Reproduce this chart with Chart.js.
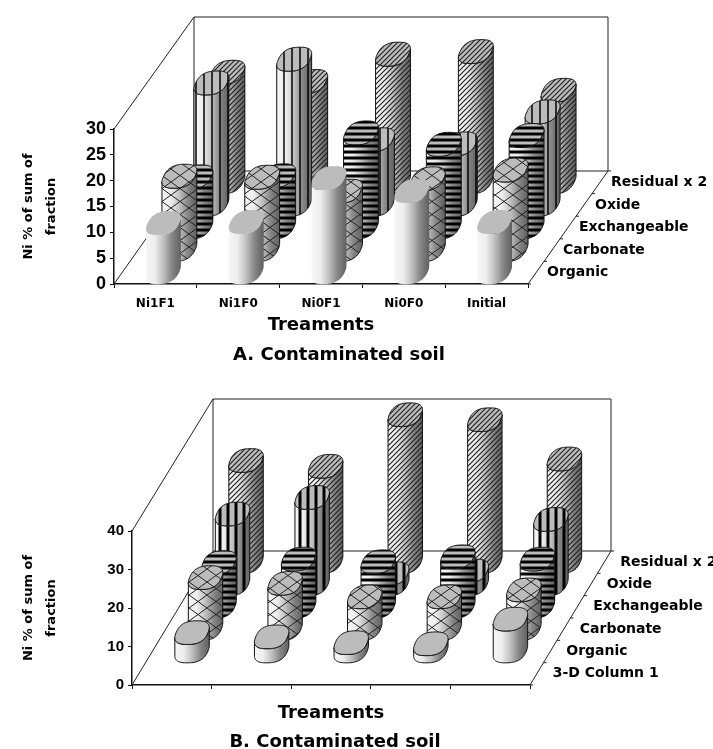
<!DOCTYPE html>
<html>
<head>
<meta charset="utf-8">
<script src="https://cdn.jsdelivr.net/npm/chart.js@4"></script>
<style>
  html, body { margin: 0; padding: 0; background: #fff; }
  canvas { position: absolute; left: 0; filter: blur(0.45px); }
  #chartA { top: 0; }
  #chartB { top: 374px; }
</style>
</head>
<body>
<canvas id="chartA" width="713" height="375"></canvas>
<canvas id="chartB" width="713" height="375"></canvas>
<script>
const categories = ['Ni1F1', 'Ni1F0', 'Ni0F1', 'Ni0F0', 'Initial'];

// panel A
const seriesA = ['Organic', 'Carbonate', 'Exchangeable', 'Oxide', 'Residual x 2'];
const organicA = [9.6, 9.8, 18.3, 15.8, 9.8];
const carbonateA = [14.3, 14.1, 11.4, 13.8, 15.5];
const exchangeableA = [9.8, 10, 18.3, 16.1, 17.8];
const oxideA = [23.6, 28.2, 12.6, 11.8, 18];
const residualA = [21.3, 19.5, 24.8, 25.3, 17.8];

// panel B, the first series is empty in the original
const seriesB = ['3-D Column 1', 'Organic', 'Carbonate', 'Exchangeable', 'Oxide', 'Residual x 2'];
const column1B = [null, null, null, null, null];
const organicB = [4.9, 3.8, 2.3, 2, 8.4];
const carbonateB = [13.4, 11.9, 8.4, 8.4, 10.2];
const exchangeableB = [11.5, 12.4, 11.7, 13, 12.4];
const oxideB = [18.3, 22.6, 2.8, 3.5, 16.9];
const residualB = [26.4, 24.9, 38.3, 37, 26.8];

const labelFont = 'bold 14px "DejaVu Sans"';
const captionFont = 'bold 18px "DejaVu Sans"';

function makePattern(ctx, kind) {
  const c = document.createElement('canvas');
  const p = c.getContext('2d');
  p.strokeStyle = '#000';
  if (kind === 'vertical' || kind === 'verticalBold') {
    c.width = 8; c.height = 2;
    p.lineWidth = kind === 'vertical' ? 1.5 : 3;
    p.beginPath(); p.moveTo(4, 0); p.lineTo(4, 2); p.stroke();
  } else if (kind === 'horizontal') {
    c.width = 2; c.height = 6;
    p.lineWidth = 2.8;
    p.beginPath(); p.moveTo(0, 2); p.lineTo(2, 2); p.stroke();
  } else if (kind === 'diagonal') {
    c.width = 5; c.height = 5;
    p.lineWidth = 1.2;
    p.strokeStyle = '#222';
    p.beginPath();
    p.moveTo(-1, 6); p.lineTo(6, -1);
    p.moveTo(-1, 1); p.lineTo(1, -1);
    p.moveTo(4, 6); p.lineTo(6, 4);
    p.stroke();
  } else if (kind === 'lattice') {
    c.width = 18; c.height = 13;
    p.lineWidth = 1;
    p.strokeStyle = '#222';
    p.beginPath();
    p.moveTo(0, 6.5); p.lineTo(9, 0); p.lineTo(18, 6.5); p.lineTo(9, 13); p.closePath();
    p.stroke();
  } else {
    return null;
  }
  return ctx.createPattern(c, 'repeat');
}

function tracePoints(ctx, pts) {
  pts.forEach((pt, i) => i ? ctx.lineTo(pt[0], pt[1]) : ctx.moveTo(pt[0], pt[1]));
}

// squashed circle, a little boxy like the Excel cylinders
function capOutline(a, bx, by) {
  const bend = v => Math.sign(v) * Math.pow(Math.abs(v), 0.78);
  const pts = [];
  for (let k = 0; k < 96; k++) {
    const t = -Math.PI * 2 * k / 96;
    const u = bend(Math.cos(t)), v = bend(Math.sin(t));
    pts.push([a * u + bx * v, by * v]);
  }
  return pts;
}

function drawCylinder(ctx, bar, slot, kind, outline, dx, dy) {
  const cx = bar.x + (slot + 0.5) * dx;
  const topY = bar.y + (slot + 0.5) * dy;
  const baseY = bar.base + (slot + 0.5) * dy;
  const cap = capOutline(bar.width / 2, dx * 0.35, dy * 0.53);

  let iMax = 0;
  cap.forEach((pt, i) => { if (pt[0] > cap[iMax][0]) iMax = i; });
  const ring = cap.slice(iMax).concat(cap.slice(0, iMax));
  const half = ring.slice(0, ring.length / 2 + 1);
  const place = (pts, y) => pts.map(pt => [cx + pt[0], y + pt[1]]);
  const right = cx + ring[0][0], left = cx + ring[ring.length / 2][0];

  const body = place(half, baseY).concat(place(half, topY).reverse());
  const grad = ctx.createLinearGradient(left, 0, right, 0);
  grad.addColorStop(0, '#f6f6f6');
  grad.addColorStop(0.25, '#eeeeee');
  grad.addColorStop(0.5, '#c0c0c0');
  grad.addColorStop(0.75, '#858585');
  grad.addColorStop(1, '#606060');
  const pattern = makePattern(ctx, kind);

  ctx.save();
  ctx.beginPath();
  tracePoints(ctx, body);
  ctx.closePath();
  ctx.fillStyle = grad;
  ctx.fill();
  if (pattern) { ctx.fillStyle = pattern; ctx.fill(); }
  if (outline) { ctx.strokeStyle = '#111'; ctx.lineWidth = 1; ctx.stroke(); }

  ctx.beginPath();
  tracePoints(ctx, place(ring, topY));
  ctx.closePath();
  ctx.fillStyle = '#bcbcbc';
  ctx.fill();
  if (pattern) { ctx.fillStyle = pattern; ctx.fill(); }
  if (outline) { ctx.strokeStyle = '#111'; ctx.lineWidth = 1; ctx.stroke(); }
  ctx.restore();
}

// the 3-D box, the depth axis and the columns, all hung on the chart's own scales
const cylinders = {
  id: 'cylinders',
  afterDatasetsDraw(chart, args, opts) {
    const { ctx, chartArea: area } = chart;
    const n = chart.data.datasets.length;
    const dx = opts.depthX / n, dy = -opts.depthY / n;
    const yScale = chart.scales.y;
    const zero = yScale.getPixelForValue(0);

    ctx.save();
    ctx.strokeStyle = '#222';
    ctx.lineWidth = 1;
    ctx.beginPath();
    // back wall
    ctx.rect(area.left + opts.depthX, area.top - opts.depthY + opts.wallExtra, area.width,
      area.height - opts.wallExtra);
    // side wall and floor edges
    ctx.moveTo(area.left, area.top);
    ctx.lineTo(area.left + opts.depthX, area.top - opts.depthY + opts.wallExtra);
    ctx.moveTo(area.left, zero);
    ctx.lineTo(area.left + opts.depthX, zero - opts.depthY);
    ctx.moveTo(area.right, zero);
    ctx.lineTo(area.right + opts.depthX, zero - opts.depthY);
    ctx.stroke();

    // depth axis ticks
    ctx.beginPath();
    for (let s = 0; s <= n; s++) {
      ctx.moveTo(area.right + s * dx, zero + s * dy);
      ctx.lineTo(area.right + s * dx + 3, zero + s * dy);
    }
    ctx.stroke();
    ctx.restore();

    // back series first so the front ones cover them
    for (let s = n - 1; s >= 0; s--) {
      const ds = chart.data.datasets[s];
      chart.getDatasetMeta(s).data.forEach((bar, i) => {
        if (ds.data[i] == null) return;
        drawCylinder(ctx, bar, s, ds.patternKind, ds.outlined, dx, dy);
      });
    }

    ctx.save();
    ctx.fillStyle = '#000';
    ctx.font = labelFont;
    ctx.textBaseline = 'middle';
    ctx.textAlign = 'left';
    chart.data.datasets.forEach((ds, s) => {
      ctx.fillText(ds.label, area.right + (s + 0.5) * dx + opts.labelGap, zero + (s + 0.5) * dy);
    });
    ctx.font = captionFont;
    ctx.textAlign = 'center';
    ctx.fillText(opts.caption, opts.captionX, opts.captionY);
    ctx.restore();
  }
};

function dataset(label, data, patternKind, outlined, barPct) {
  return {
    label, data, patternKind, outlined,
    backgroundColor: 'transparent',
    grouped: false,
    barPercentage: barPct,
    categoryPercentage: 1
  };
}

function panel(id, names, values, kinds, outlines, o) {
  return new Chart(document.getElementById(id), {
    type: 'bar',
    data: {
      labels: categories,
      datasets: names.map((name, i) => dataset(name, values[i], kinds[i], outlines[i], o.barPct))
    },
    options: {
      responsive: false,
      animation: false,
      layout: { padding: { top: o.top, right: o.right, left: 0, bottom: o.bottom } },
      plugins: {
        legend: { display: false },
        tooltip: { enabled: false },
        title: { display: false },
        cylinders: {
          depthX: o.depthX, depthY: o.depthY, wallExtra: o.wallExtra, labelGap: o.labelGap,
          caption: o.title, captionX: o.captionX, captionY: o.captionY
        }
      },
      scales: {
        x: {
          afterFit: s => { s.height = o.xBox; },
          border: { color: '#111', width: 1.5 },
          grid: { drawOnChartArea: false, tickLength: 4, color: '#111' },
          ticks: {
            display: o.showCategories,
            color: '#000',
            padding: 9,
            maxRotation: 0,
            font: { family: 'DejaVu Sans', size: 12, weight: 'bold' }
          },
          title: {
            display: true,
            text: 'Treaments',
            color: '#000',
            font: { family: 'DejaVu Sans', size: 18, weight: 'bold', lineHeight: 20 / 18 },
            padding: { top: 0, bottom: o.xTitlePad }
          }
        },
        y: {
          min: 0,
          max: o.max,
          afterFit: s => { s.width = o.left; },
          border: { color: '#111', width: 1.5 },
          grid: { drawOnChartArea: false, tickLength: 4, color: '#111' },
          ticks: {
            stepSize: o.step,
            color: '#000',
            padding: 4,
            font: { family: 'Liberation Sans', size: o.tickSize, weight: 'bold' }
          },
          title: {
            display: true,
            text: ['Ni % of sum of', 'fraction'],
            color: '#000',
            font: { family: 'DejaVu Sans', size: 13, weight: 'bold', lineHeight: 23 / 13 },
            padding: { top: 17, bottom: 0 }
          }
        }
      }
    },
    plugins: [cylinders]
  });
}

panel('chartA', seriesA,
  [organicA, carbonateA, exchangeableA, oxideA, residualA],
  ['plain', 'lattice', 'horizontal', 'vertical', 'diagonal'],
  [false, true, true, true, true],
  { top: 129, right: 185, bottom: 30, left: 114, max: 30, step: 5, tickSize: 18, barPct: 0.38,
    xBox: 61, xTitlePad: 10, title: 'A. Contaminated soil', captionX: 339, captionY: 355,
    showCategories: true, depthX: 80, depthY: 113, wallExtra: 1, labelGap: 11 });

panel('chartB', seriesB,
  [column1B, organicB, carbonateB, exchangeableB, oxideB, residualB],
  ['plain', 'plain', 'lattice', 'horizontal', 'verticalBold', 'diagonal'],
  [true, true, true, true, true, true],
  { top: 157, right: 183, bottom: 16, left: 132, max: 40, step: 10, tickSize: 15, barPct: 0.4,
    xBox: 48, xTitlePad: 10, title: 'B. Contaminated soil', captionX: 335, captionY: 368,
    showCategories: false, depthX: 81, depthY: 134, wallExtra: 2, labelGap: 16 });
</script>
</body>
</html>
